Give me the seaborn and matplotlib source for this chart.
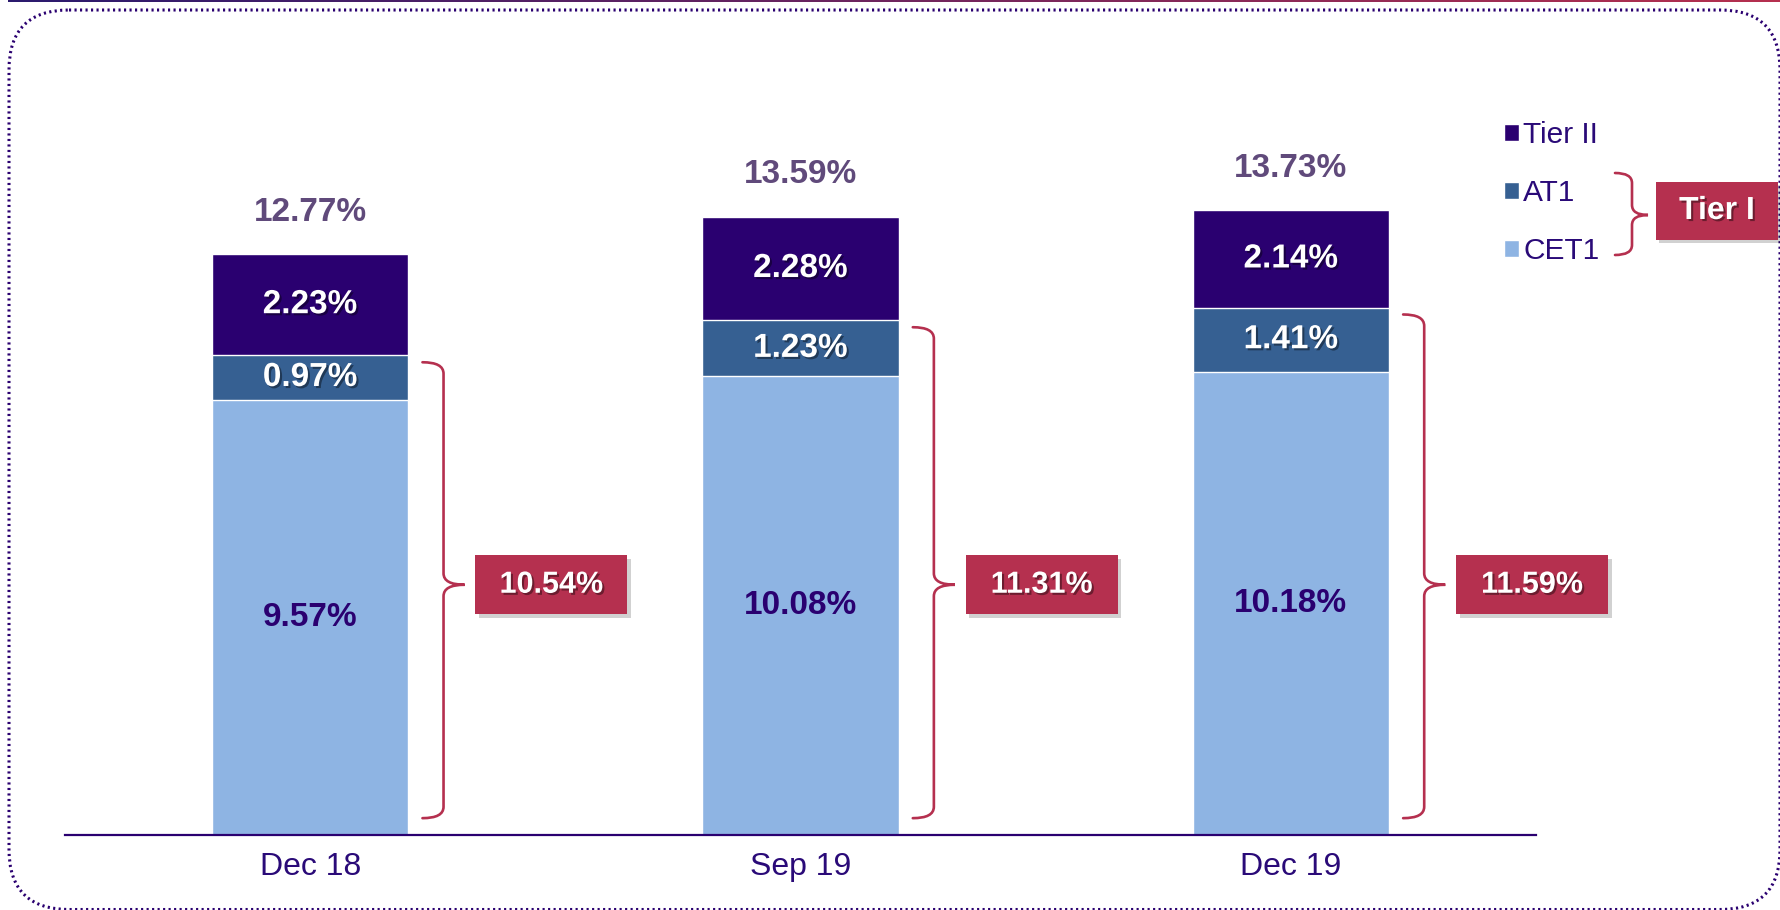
import numpy as np
import seaborn as sns
import matplotlib.pyplot as plt
import matplotlib.patheffects as pe
from matplotlib.patches import Rectangle, FancyBboxPatch, Patch, PathPatch
from matplotlib.path import Path
from matplotlib.colors import LinearSegmentedColormap

# ------------------------------- DATA -----------------------------------------
periods = ['Dec 18', 'Sep 19', 'Dec 19']
cet1 = [9.57, 10.08, 10.18]
at1 = [0.97, 1.23, 1.41]
tier2 = [2.23, 2.28, 2.14]
tier1_total = [10.54, 11.31, 11.59]
car_total = [12.77, 13.59, 13.73]
series_names = ['Tier II', 'AT1', 'CET1']

# ------------------------------ STYLE -----------------------------------------
C_T2 = '#2A0070'
C_AT1 = '#366092'
C_CET1 = '#8EB4E3'
C_TOTAL = '#604A7B'
C_RED = '#B5304F'
C_TEXT = '#2A0A78'

W, H = 1781, 910

sns.set_theme(style='white')
plt.rcParams['font.family'] = ['Liberation Sans', 'DejaVu Sans']

shadow_txt = [pe.withSimplePatchShadow(offset=(1.5, -1.5), shadow_rgbFace='black', alpha=0.4)]
shadow_box = [pe.SimplePatchShadow(offset=(2.5, -2.5), shadow_rgbFace='black', alpha=0.18), pe.Normal()]


def brace(ax, x_tip, x_spine, x_point, y_top, y_bot, y_mid, ry, **kw):
    '''
    Draws a right-facing curly brace as a path.
    ry is the curl radius in y units; sign is handled for inverted axes.
    '''
    d = ry * np.sign(y_bot - y_top)
    verts = [(x_tip, y_top), (x_spine, y_top), (x_spine, y_top + d),
             (x_spine, y_mid - d), (x_spine, y_mid), (x_point, y_mid),
             (x_spine, y_mid), (x_spine, y_mid + d),
             (x_spine, y_bot - d), (x_spine, y_bot), (x_tip, y_bot)]
    codes = [Path.MOVETO, Path.CURVE3, Path.CURVE3,
             Path.LINETO, Path.CURVE3, Path.CURVE3,
             Path.CURVE3, Path.CURVE3,
             Path.LINETO, Path.CURVE3, Path.CURVE3]
    ax.add_patch(PathPatch(Path(verts, codes), fill=False, capstyle='round', **kw))


fig = plt.figure(figsize=(W / 100, H / 100), dpi=100)
ax = fig.add_axes([65 / W, 75 / H, 1471 / W, 728 / H])

# stacked bars: cumulative heights drawn back to front
t1_stack = [c + a for c, a in zip(cet1, at1)]
all_stack = [s + t for s, t in zip(t1_stack, tier2)]
for vals, col in [(all_stack, C_T2), (t1_stack, C_AT1), (cet1, C_CET1)]:
    sns.barplot(x=periods, y=vals, color=col, saturation=1, width=0.4,
                errorbar=None, ax=ax)

ax.set_xlim(-0.5, 2.5)
ax.set_ylim(0, 16)
ax.set_xlabel('')
ax.set_ylabel('')
ax.set_yticks([])
for s in ['top', 'right', 'left']:
    ax.spines[s].set_visible(False)
ax.spines['bottom'].set_color(C_T2)
ax.spines['bottom'].set_linewidth(1.6)
ax.tick_params(axis='x', length=0, pad=12, labelsize=23, labelcolor=C_TEXT)

lbl = dict(ha='center', va='center', fontsize=24, fontweight='bold')
for i in range(len(periods)):
    ax.text(i, cet1[i] / 2, f'{cet1[i]:.2f}%', color=C_T2, **lbl)
    ax.text(i, cet1[i] + at1[i] / 2, f'{at1[i]:.2f}%', color='white',
            path_effects=shadow_txt, **lbl)
    ax.text(i, t1_stack[i] + tier2[i] / 2, f'{tier2[i]:.2f}%', color='white',
            path_effects=shadow_txt, **lbl)
    ax.annotate(f'{car_total[i]:.2f}%', (i, all_stack[i]), xytext=(0, 30),
                textcoords='offset points', color=C_TOTAL, **lbl)

    # Tier I brace + box
    mid = 5.5
    brace(ax, i + 0.229, i + 0.272, i + 0.315, tier1_total[i] - 0.15, 0.37, mid, 0.25,
          edgecolor=C_RED, linewidth=1.9, clip_on=False)
    ax.add_patch(Rectangle((i + 0.337, mid - 0.65), 0.31, 1.3, facecolor=C_RED,
                           edgecolor='none', clip_on=False, path_effects=shadow_box))
    ax.text(i + 0.337 + 0.155, mid, f'{tier1_total[i]:.2f}%', color='white',
            ha='center', va='center', fontsize=22, fontweight='bold',
            path_effects=shadow_txt, clip_on=False)

leg = ax.legend(handles=[Patch(facecolor=c, label=n) for c, n in
                         zip([C_T2, C_AT1, C_CET1], series_names)],
                loc='upper left', bbox_to_anchor=(1504 / W, 1 - 121 / H),
                bbox_transform=fig.transFigure, frameon=False, fontsize=21.5,
                handlelength=0.5, handleheight=0.5, handletextpad=0.15,
                labelspacing=1.0, borderpad=0, borderaxespad=0, labelcolor=C_TEXT)

# ------------------------- overlay in pixel coords ----------------------------
ov = fig.add_axes([0, 0, 1, 1])
ov.set_xlim(0, W)
ov.set_ylim(H, 0)
ov.axis('off')

grad = LinearSegmentedColormap.from_list('topline', ['#2B1A6E', C_RED])
ov.imshow(np.linspace(0, 1, 256).reshape(1, -1), cmap=grad, aspect='auto',
          extent=(8, W, 2.5, 0))

ov.add_patch(FancyBboxPatch((9, 10), 1771, 899.5, boxstyle='round,pad=0,rounding_size=60',
                            fill=False, edgecolor=C_T2, linewidth=2.2,
                            linestyle=(0, (0.7, 1.1))))

brace(ov, 1615, 1632, 1648, 173, 255, 215, 10, edgecolor=C_RED, linewidth=1.9)
ov.add_patch(Rectangle((1656, 182), 122, 58, facecolor=C_RED, edgecolor='none',
                       path_effects=shadow_box))
ov.text(1717, 211, 'Tier I', color='white', ha='center', va='center',
        fontsize=23, fontweight='bold', path_effects=shadow_txt)

fig.savefig('out.png', dpi=100, facecolor='white')
